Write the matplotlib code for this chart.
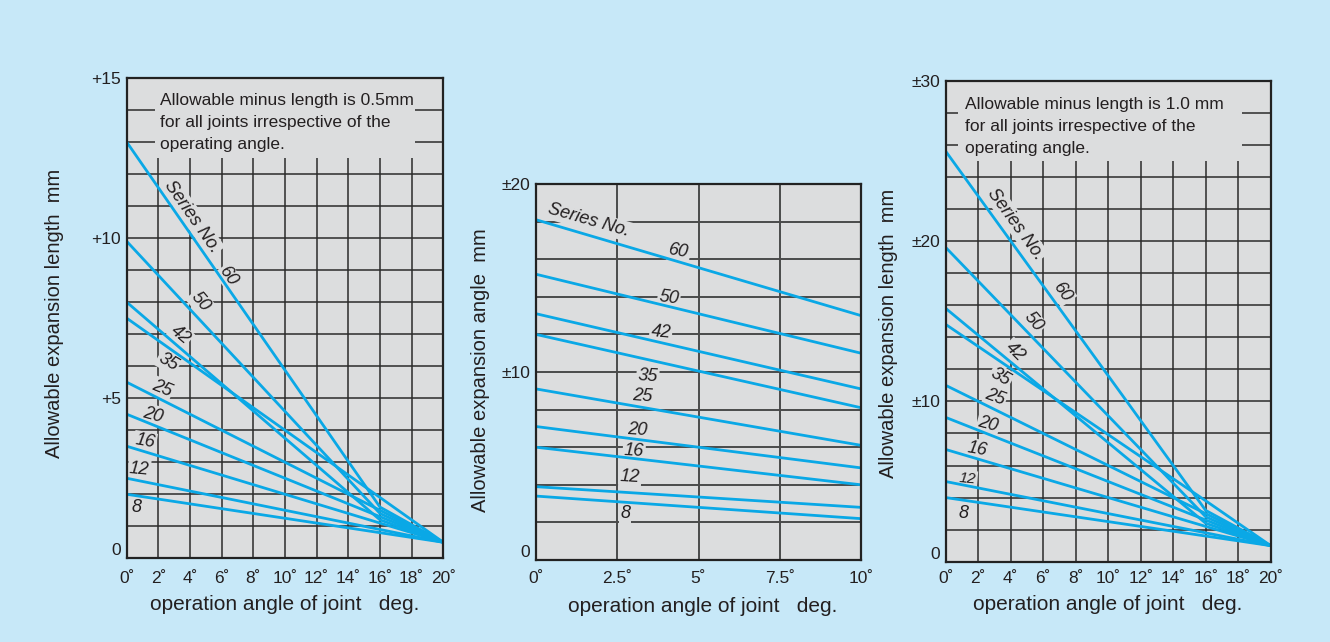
import matplotlib
matplotlib.use('Agg')
import matplotlib.pyplot as plt
from matplotlib.patches import Rectangle

# Series (joint numbers)
series = ['60', '50', '42', '35', '25', '20', '16', '12', '8']

# Left chart: allowable expansion length (+), angle 0 -> 16 -> 20 deg
left_x = [0, 16, 20]
left_start = [13.0, 9.9, 8.0, 7.5, 5.5, 4.5, 3.5, 2.5, 2.0]
left_knee = [1.6, 1.4, 1.2, 1.9, 1.5, 1.3, 1.1, 0.9, 0.8]
left_end = [0.5, 0.5, 0.5, 0.5, 0.5, 0.5, 0.5, 0.5, 0.5]

# Middle chart: allowable expansion angle, angle 0 -> 10 deg
mid_x = [0, 10]
mid_start = [18.1, 15.2, 13.1, 12.0, 9.1, 7.1, 6.0, 3.9, 3.4]
mid_end = [13.0, 11.0, 9.1, 8.1, 6.1, 4.9, 4.0, 2.8, 2.2]

# Right chart: allowable expansion length (±)
right_x = [0, 16, 20]
right_start = [25.6, 19.6, 15.8, 14.8, 11.0, 9.0, 7.0, 5.0, 4.0]
right_knee = [3.2, 2.8, 2.4, 3.8, 3.0, 2.6, 2.2, 1.8, 1.6]
right_end = [1.0, 1.0, 1.0, 1.0, 1.0, 1.0, 1.0, 1.0, 1.0]

# colours
c_fig = '#c7e8f8'
c_ax = '#dcddde'
c_line = '#0aa8e6'
c_grid = '#2b2b2b'
c_text = '#231f20'
fnt = 'Liberation Sans'

W, H = 1330, 642
fig = plt.figure(figsize=(13.3, 6.42), dpi=100, facecolor=c_fig)


def box(x0, y0, x1, y1):
    # pixel box -> figure fraction
    return [x0 / W, 1 - y1 / H, (x1 - x0) / W, (y1 - y0) / H]


def style(ax, xt, xtl, yt, ytl, xg, yg, gcol, glw, xpad):
    ax.set_facecolor(c_ax)
    ax.set_xticks(xt)
    ax.set_xticklabels(xtl, fontsize=12.5, family=fnt, color=c_text)
    ax.set_yticks(yt)
    ax.set_yticklabels(ytl, fontsize=12.5, family=fnt, color=c_text)
    ax.get_yticklabels()[0].set_va('bottom')
    ax.tick_params(length=0)
    ax.tick_params(axis='x', pad=xpad)
    ax.tick_params(axis='y', pad=4)
    for g in xg:
        ax.axvline(g, color=gcol, lw=glw, zorder=1)
    for g in yg:
        ax.axhline(g, color=gcol, lw=glw, zorder=1)
    for s in ax.spines.values():
        s.set_color('#222222')
        s.set_linewidth(1.6)
        s.set_zorder(4)


def lab(ax, x, y, t, rot, size=13):
    ax.text(x, y, t, rotation=rot, rotation_mode='anchor', ha='center', va='center',
            fontsize=size, family=fnt, style='italic', color=c_text, zorder=2.5,
            bbox=dict(facecolor=c_ax, edgecolor='none', pad=1))


deg20 = [f'{v}˚' for v in range(0, 21, 2)]
note = 'Allowable minus length is {}\nfor all joints irrespective of the\noperating angle.'

# ---------- left ----------
ax1 = fig.add_axes(box(126.7, 78, 443.3, 558.3))
ax1.set_xlim(0, 20)
ax1.set_ylim(0, 15)
style(ax1, range(0, 21, 2), deg20, [0, 5, 10, 15], ['0', '+5', '+10', '+15'],
      range(2, 20, 2), range(1, 15), c_grid, 1.1, 9)
for i in range(len(series)):
    ax1.plot(left_x, [left_start[i], left_knee[i], left_end[i]], color=c_line, lw=2.0,
             zorder=3, solid_capstyle='butt')
ax1.add_patch(Rectangle((1.8, 12.5), 16.4, 2.5, facecolor=c_ax, edgecolor='none', zorder=2))
ax1.text(2.1, 14.53, note.format('0.5mm'),
         ha='left', va='top', fontsize=12.5, family=fnt, color=c_text, linespacing=1.58, zorder=2.5)
lab(ax1, 4.14, 10.66, 'Series No.', -55)
pos1 = [(6.42, 8.8, -55), (4.63, 8.02, -50), (3.37, 6.98, -40), (2.63, 6.14, -30), (2.21, 5.31, -22),
        (1.68, 4.48, -15), (1.16, 3.64, -10), (0.8, 2.78, -5), (0.63, 1.59, 0)]
for s, (x, y, r) in zip(series, pos1):
    lab(ax1, x, y, s, r)

# ---------- middle ----------
ax2 = fig.add_axes(box(536, 184, 861, 560))
ax2.set_xlim(0, 10)
ax2.set_ylim(0, 20)
style(ax2, [0, 2.5, 5, 7.5, 10], ['0˚', '2.5˚', '5˚', '7.5˚', '10˚'], [0, 10, 20], ['0', '±10', '±20'],
      [2.5, 5, 7.5], range(2, 20, 2), '#4a4a4a', 1.4, 8)
for i in range(len(series)):
    ax2.plot(mid_x, [mid_start[i], mid_end[i]], color=c_line, lw=2.0, zorder=3)
lab(ax2, 1.63, 18.05, 'Series No.', -16)
pos2 = [(4.4, 16.4, -10), (4.09, 13.95, -8), (3.84, 12.11, -5), (3.44, 9.79, -4), (3.28, 8.69, -4),
        (3.12, 6.91, -3), (3.02, 5.81, -3), (2.89, 4.4, -3), (2.74, 2.45, 0)]
for s, (x, y, r) in zip(series, pos2):
    lab(ax2, x, y, s, r)

# ---------- right ----------
ax3 = fig.add_axes(box(945.7, 80.7, 1270.7, 561.7))
ax3.set_xlim(0, 20)
ax3.set_ylim(0, 30)
style(ax3, range(0, 21, 2), deg20, [0, 10, 20, 30], ['0', '±10', '±20', '±30'],
      range(2, 20, 2), range(2, 30, 2), c_grid, 1.1, 7)
for i in range(len(series)):
    ax3.plot(right_x, [right_start[i], right_knee[i], right_end[i]], color=c_line, lw=2.0,
             zorder=3, solid_capstyle='butt')
ax3.add_patch(Rectangle((0.76, 25.0), 17.5, 5.0, facecolor=c_ax, edgecolor='none', zorder=2))
ax3.text(1.19, 29.0, note.format('1.0 mm'),
         ha='left', va='top', fontsize=12.5, family=fnt, color=c_text, linespacing=1.58, zorder=2.5)
lab(ax3, 4.31, 21.07, 'Series No.', -54)
pos3 = [(7.2, 16.8, -55), (5.39, 14.94, -50), (4.26, 13.1, -45), (3.4, 11.54, -30), (3.03, 10.23, -20),
        (2.62, 8.57, -15), (1.91, 7.03, -10), (1.35, 5.16, -5), (1.08, 3.02, 0)]
for s, (x, y, r) in zip(series, pos3):
    lab(ax3, x, y, s, r, 11 if s == '12' else 13)

# axis titles
xl = 'operation angle of joint   deg.'
for cx, cy in [(285, 605), (703, 607), (1108, 605)]:
    fig.text(cx / W, 1 - cy / H, xl, ha='center', va='center', fontsize=15, family=fnt, color=c_text)
for cx, cy, t in [(55, 313, 'Allowable expansion length  mm'), (481, 370, 'Allowable expansion angle  mm'),
                  (888, 333, 'Allowable expansion length  mm')]:
    fig.text(cx / W, 1 - cy / H, t, ha='center', va='center', rotation=90, fontsize=14.5, family=fnt,
             color=c_text)

fig.savefig('out.png', dpi=100, facecolor=c_fig)
